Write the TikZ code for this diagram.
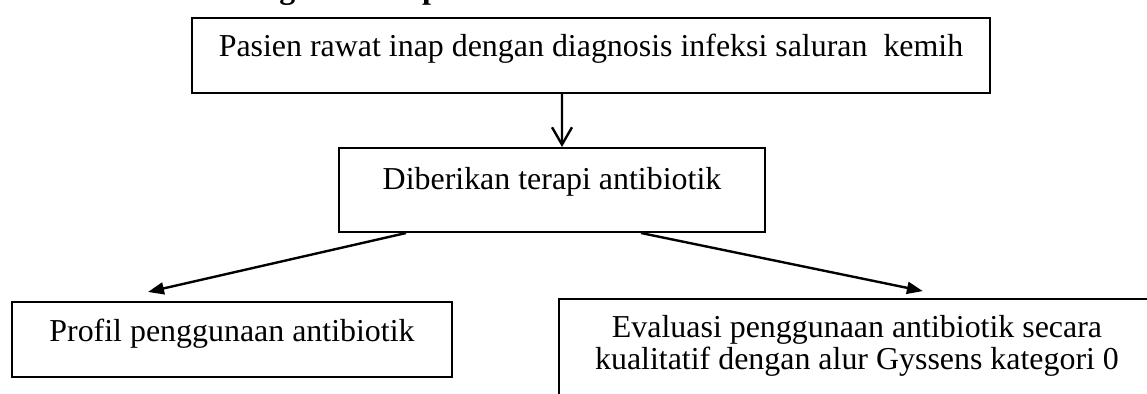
\documentclass[tikz,border=0pt]{standalone}
\usepackage{fontspec}
\setmainfont{Liberation Serif}
\usetikzlibrary{arrows.meta,positioning}

\begin{document}
\begin{tikzpicture}[x=0.376pt, y=-0.376pt, font=\fontsize{12pt}{14pt}\selectfont,
  kotak/.style={draw, line width=0.75pt, inner sep=0pt, anchor=base},
  panah/.style={line width=0.9pt, -{Triangle[length=6pt,width=4.5pt]}}]
\useasboundingbox (0,0) rectangle (1147,394);
\node[font=\fontsize{12pt}{14pt}\selectfont\bfseries, anchor=base west] (0) at (183,-1.5) {Kerangka Konsep};
\node[kotak, minimum width=300pt, text height=14.66pt, text depth=13.54pt] (1) at (591,57) {Pasien rawat inap dengan diagnosis infeksi saluran\ \ kemih};
\node[kotak, minimum width=160.2pt, text height=15.8pt, text depth=15.8pt] (2) at (552,190) {Diberikan terapi antibiotik};
\node[kotak, minimum width=165.4pt, text height=15.04pt, text depth=13.16pt] (3) at (232,342) {Profil penggunaan antibiotik};
\node[kotak, minimum width=224.1pt, text height=14.66pt, text depth=30.8pt] (4) at (857,338) {\fontsize{12pt}{11.3pt}\selectfont\begin{tabular}[t]{@{}c@{}}Evaluasi penggunaan antibiotik secara\\kualitatif dengan alur Gyssens kategori 0\end{tabular}};
\draw[line width=0.9pt, -{Straight Barb[length=6.5pt,width=7.5pt]}] ([xshift=-10.9pt]1.south) -- ([xshift=3.76pt]2.north);
\draw[panah] ([xshift=25.6pt]2.south west) -- ([xshift=51.5pt,yshift=3.4pt]3.north west);
\draw[panah] ([xshift=-47pt]2.south east) -- ([xshift=137.2pt,yshift=2.6pt]4.north west);
\end{tikzpicture}
\end{document}
